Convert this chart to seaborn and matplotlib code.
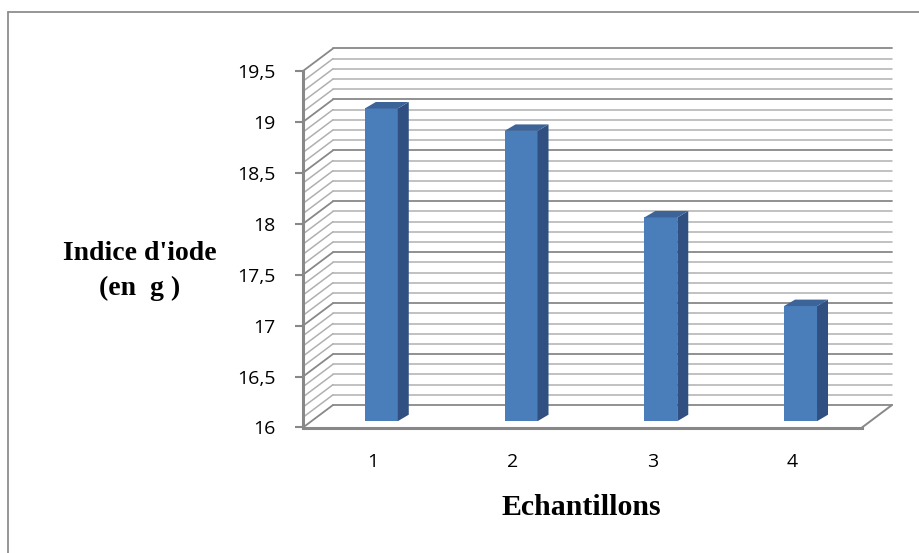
import matplotlib
matplotlib.use("Agg")
import matplotlib.pyplot as plt
from matplotlib.lines import Line2D
from matplotlib.patches import Polygon
from matplotlib.ticker import FuncFormatter
import numpy as np
import pandas as pd
import seaborn as sns

# Iodine index per sample
samples = ["1", "2", "3", "4"]
iodine_index = [19.07, 18.85, 18.0, 17.13]

y_min, y_max = 16.0, 19.5
major_ticks = [16.0, 16.5, 17.0, 17.5, 18.0, 18.5, 19.0, 19.5]

y_title = "Indice d'iode\n(en  g )"
x_title = "Echantillons"

df = pd.DataFrame({"echantillon": samples, "indice": iodine_index})

sns.set_style("white")
plt.rcParams["font.family"] = ["Open Sans", "DejaVu Sans"]
plt.rcParams["text.color"] = "black"
plt.rcParams["axes.labelcolor"] = "black"

W, H = 919, 553
fig = plt.figure(figsize=(W / 100, H / 100), dpi=100)
fig.patch.set_facecolor("white")

# front plane of the 3D box, in pixels
left_px, right_px = 303, 862
base_px, top_px = 427.5, 71
ax = fig.add_axes([left_px / W, 1 - base_px / H,
                   (right_px - left_px) / W, (base_px - top_px) / H])

n = len(samples)
px_per_x = (right_px - left_px) / n
px_per_y = (base_px - top_px) / (y_max - y_min)

# depth of the box (back wall offset) and of each column
wall_dx, wall_dy = 30 / px_per_x, 22.5 / px_per_y
bar_dx, bar_dy = 11 / px_per_x, 6.5 / px_per_y
front_depth = 0.28

front_col = "#4A7EBB"
side_col = "#2F5080"
top_col = "#3D6498"
minor_col = "#B0B0B0"
major_col = "#888888"

sns.barplot(data=df, x="echantillon", y="indice", width=0.236,
            color=front_col, saturation=1, ax=ax, zorder=3)

x0, x1 = -0.5, n - 0.5
ax.set_xlim(x0, x1)
ax.set_ylim(y_min, y_max)

# back wall and left side wall grid (major every 0.5, minor every 0.1)
levels = np.round(np.arange(y_min, y_max + 1e-9, 0.1), 1)
for v in levels:
    is_major = abs(v * 2 - round(v * 2)) < 1e-6
    col = major_col if is_major else minor_col
    lw = 1.3 if is_major else 1.1
    ax.add_line(Line2D([x0 + wall_dx, x1 + wall_dx], [v + wall_dy, v + wall_dy],
                       color=col, lw=lw, clip_on=False, zorder=1))
    ax.add_line(Line2D([x0, x0 + wall_dx], [v, v + wall_dy],
                       color=col, lw=lw, clip_on=False, zorder=1))

# right edge of the floor
ax.add_line(Line2D([x1, x1 + wall_dx], [y_min, y_min + wall_dy],
                   color=major_col, lw=1.4, clip_on=False, zorder=1))

# turn flat bars into 3D columns standing on the floor
for patch in list(ax.patches):
    bx = patch.get_x()
    bw = patch.get_width()
    val = patch.get_height()
    fx = bx + front_depth * wall_dx
    fy = y_min + front_depth * wall_dy
    top = val + front_depth * wall_dy
    patch.set_x(fx)
    patch.set_y(fy)
    patch.set_height(val - y_min)
    patch.set_linewidth(0)
    patch.set_clip_on(False)
    side = Polygon([(fx + bw, fy), (fx + bw + bar_dx, fy + bar_dy),
                    (fx + bw + bar_dx, top + bar_dy), (fx + bw, top)],
                   closed=True, facecolor=side_col, edgecolor="none",
                   clip_on=False, zorder=3)
    cap = Polygon([(fx, top), (fx + bw, top), (fx + bw + bar_dx, top + bar_dy),
                   (fx + bar_dx, top + bar_dy)],
                  closed=True, facecolor=top_col, edgecolor="none",
                  clip_on=False, zorder=3)
    ax.add_patch(side)
    ax.add_patch(cap)

# axes styling
for s in ("top", "right"):
    ax.spines[s].set_visible(False)
for s in ("left", "bottom"):
    ax.spines[s].set_color(major_col)
    ax.spines[s].set_linewidth(2.2)
    ax.spines[s].set_zorder(5)
ax.grid(False)
ax.set_facecolor("none")

ax.set_yticks(major_ticks)
ax.yaxis.set_major_formatter(FuncFormatter(
    lambda v, pos: (f"{v:g}").replace(".", ",")))
ax.tick_params(axis="y", direction="out", length=5.8, width=1.5,
               color=major_col, pad=14, labelsize=14, labelcolor="black",
               left=True)
ax.tick_params(axis="x", length=0, pad=18.5, labelsize=14, labelcolor="black",
               bottom=False)

ax.set_xlabel(x_title, fontsize=21.5, fontweight="bold", color="black",
              family="Liberation Serif", va="center", ha="center")
ax.xaxis.set_label_coords(0.497, -0.224)
ax.set_ylabel(y_title, fontsize=20, fontweight="bold", family="Liberation Serif",
              color="black", rotation=0, va="center", ha="center",
              multialignment="center", linespacing=1.5)
ax.yaxis.set_label_coords(-0.2925, 0.44)

# outer chart frame (left and top edges)
fig.add_artist(Line2D([8.3 / W, 8.3 / W], [0, 1 - 11.8 / H],
                      transform=fig.transFigure, color="#8E8E8E", lw=1.3))
fig.add_artist(Line2D([8.3 / W, 1], [1 - 11.8 / H, 1 - 11.8 / H],
                      transform=fig.transFigure, color="#8E8E8E", lw=1.3))

fig.savefig("out.png", dpi=100, facecolor="white")
